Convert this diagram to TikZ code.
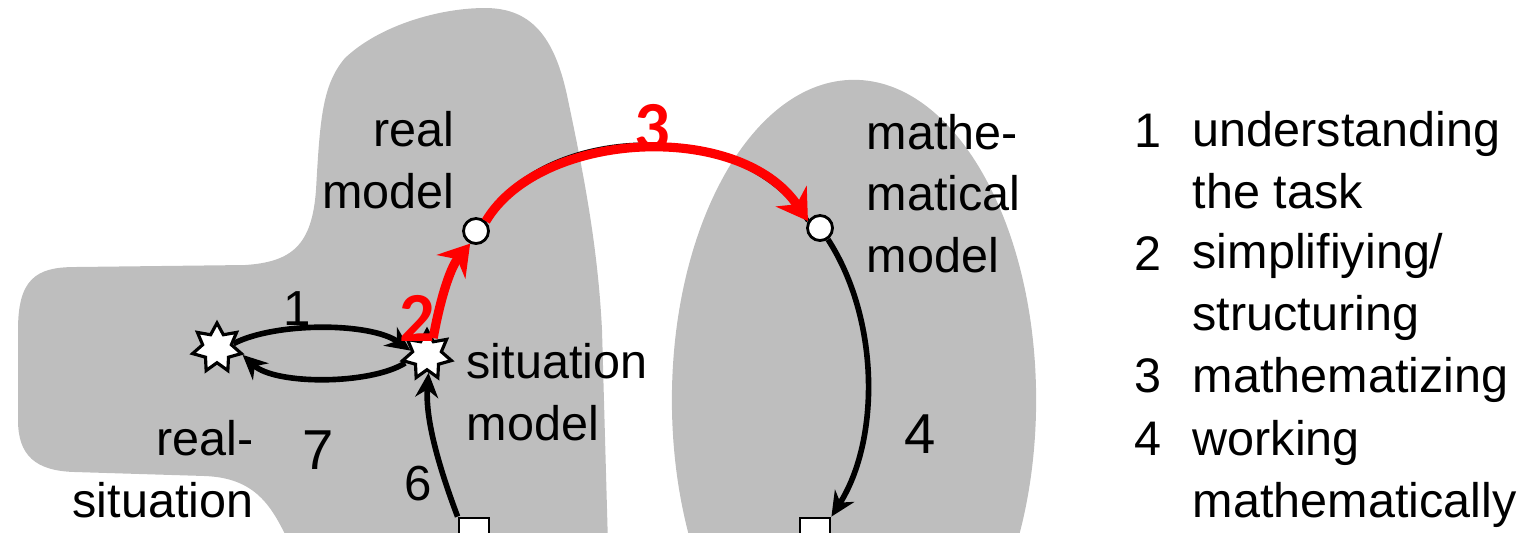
\documentclass[tikz,border=0pt]{standalone}
\usepackage{fontspec}
\setmainfont{Liberation Sans}
\newfontfamily\calib{Carlito}
\usetikzlibrary{shapes.geometric, arrows.meta}
\definecolor{blob-gray}{HTML}{BEBEBE}
\definecolor{mark-red}{HTML}{FF0000}

\begin{document}
\begin{tikzpicture}[x=0.01cm, y=-0.01cm,
        starnode/.style={star, star points=7, star point ratio=1.7, draw=black, fill=white,
            line width=0.9pt, minimum size=0.5cm, inner sep=0pt},
        dotnode/.style={circle, draw=black, fill=white, line width=0.8pt, minimum size=0.25cm, inner sep=0pt},
        boxnode/.style={rectangle, draw=black, fill=white, line width=0.8pt, minimum size=0.3cm, inner sep=0pt},
        blk/.style={line width=1.6pt, -{Stealth[length=7pt, width=6.5pt]}},
        redarr/.style={draw=mark-red, line width=2.6pt, -{Stealth[length=8.5pt, width=10.5pt]}},
        txt/.style={font=\fontsize{13.8}{17.4}\selectfont, inner sep=0pt},
        num/.style={font=\fontsize{14}{17}\selectfont, inner sep=0pt},
        bignum/.style={font=\fontsize{16}{19}\selectfont, inner sep=0pt},
        rednum/.style={text=mark-red, font=\calib\fontsize{20}{24}\selectfont\bfseries, inner sep=0pt}]
  \useasboundingbox (0,0) rectangle (1519,532);
  \clip (0,0) rectangle (1519,532);
  % grey areas: reality and mathematics
  \fill[blob-gray] (18,330) .. controls (18,280) and (35,267) .. (75,267)
      -- (245,265) .. controls (292,262) and (312,245) .. (316,190)
      .. controls (320,120) and (322,85) .. (345,58)
      .. controls (380,25) and (440,8) .. (485,8)
      .. controls (530,8) and (555,35) .. (568,100)
      .. controls (585,180) and (598,250) .. (602,330)
      -- (608,545) -- (290,545)
      .. controls (272,505) and (255,478) .. (205,476)
      -- (75,472) .. controls (35,471) and (18,455) .. (18,420) -- cycle;
  \fill[blob-gray] (854,400) ellipse [x radius=1.82cm, y radius=3.2cm];

  % stations of the cycle
  \node[starnode] (realsit) at (217,348) {};
  \node[starnode] (sitmod) at (427,355) {};
  \node[dotnode] (realmod) at (476,231) {};
  \node[dotnode] (mathmod) at (820,228) {};
  \node[boxnode] (realres) at (474,533) {};
  \node[boxnode] (mathres) at (815,533) {};

  % (base = last line)
  \node[txt, align=right, anchor=base east] (realmodlbl) at (455,208) {real\\model};
  \node[txt, align=left, anchor=base west] (sitmodlbl) at (466,440) {situation\\model};
  \node[txt, align=right, anchor=base east] (realsitlbl) at (254,517) {real-\\situation};
  \node[txt, align=left, anchor=base west] (mathmodlbl) at (866,272) {mathe-\\matical\\model};

  % steps
  \draw[blk] (realsit.15) .. controls (275,322) and (370,322) .. (sitmod.165);
  \draw[blk] (sitmod.-160) .. controls (370,385) and (275,385) .. (realsit.-15);
  \draw[blk] (realres.north west) .. controls (440,470) and (425,420) .. (sitmod.-85);
  \draw[blk] (mathmod.-55) .. controls (880,320) and (880,440) .. (mathres.north east);
  \draw[line width=1.2pt] (realmod.45) .. controls (540,124) and (740,114) .. (mathmod.150);
  \draw[redarr] (sitmod.70) .. controls (440,300) and (450,268) .. (realmod.245);
  \draw[redarr] (realmod.45) .. controls (540,130) and (740,120) .. (mathmod.150);

  \node[num] (one) at (297,309) {1};
  \node[bignum] (seven) at (318,450) {7};
  \node[num] (six) at (418,484) {6};
  \node[bignum] (four) at (920,434) {4};
  \node[rednum] (two) at (417,318) {2};
  \node[rednum] (three) at (652,128) {3};

  % legend
  \foreach \n/\y/\z/\t in {1/147/208/{understanding\\the task}, 2/270/330/{simplifiying/\\structuring},
                           3/392/392/{mathematizing}, 4/455/517/{working\\mathematically}} {
    \node[txt, anchor=base east] (key\n) at (1162,\y) {\n};
    \node[txt, align=left, anchor=base west] (step\n) at (1192,\z) {\t};
  }
\end{tikzpicture}
\end{document}
